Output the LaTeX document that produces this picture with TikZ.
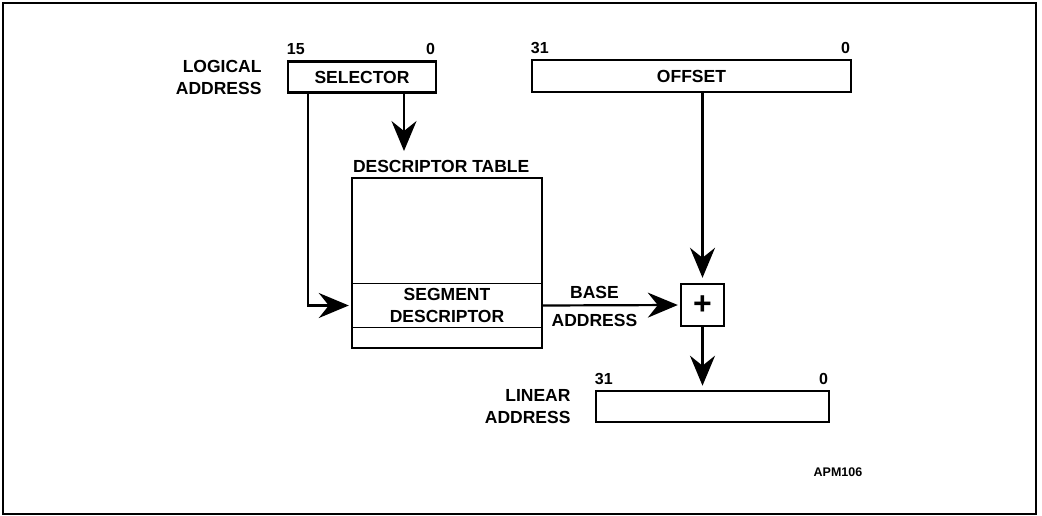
\documentclass[tikz,border=0pt]{standalone}
\usepackage{fontspec}
\setmainfont{Liberation Sans}
\usetikzlibrary{arrows.meta,positioning}
\begin{document}
\begin{tikzpicture}[x=1pt,y=-1pt,
  every node/.style={font=\fontsize{17.5}{22}\selectfont\bfseries,inner sep=0pt},
  regbox/.style={draw,line width=2.6pt,minimum height=31pt},
  bitno/.style={font=\fontsize{16}{18}\selectfont\bfseries,inner sep=0pt},
  arr/.style={line width=2.2pt,-{Stealth[length=30pt,width=25pt,inset=10pt]}}]
\useasboundingbox (0,0) rectangle (1042,516);
\draw[line width=2pt] (3,3) rectangle (1036,514);
% registers
\node[regbox,minimum width=148pt] (sel) at (362,77) {SELECTOR};
\node[regbox,minimum width=319pt,minimum height=32pt] (off) at (691.5,76) {OFFSET};
\node[regbox,minimum width=233pt] (lin) at (712.5,406.5) {};
\foreach \r/\hi in {sel/15,off/31,lin/31} {
  \node[bitno,anchor=south west] (\r-hi) at ([yshift=5pt]\r.north west) {\hi};
  \node[bitno,anchor=south east] (\r-lo) at ([xshift=-2pt,yshift=5pt]\r.north east) {0};
}
\node[align=right,left=25pt of sel] (logaddr) {LOGICAL\\ADDRESS};
\node[align=right,left=24pt of lin] (linaddr) {LINEAR\\ADDRESS};
% descriptor table
\node[draw,line width=2.4pt,minimum width=190pt,minimum height=170pt] (tab) at (447,263) {};
\node[anchor=south west] (tabname) at ([xshift=2pt,yshift=4pt]tab.north west) {DESCRIPTOR TABLE};
\node[minimum width=190pt,minimum height=43pt,align=center] (seg) at (447,305.5) {SEGMENT\\DESCRIPTOR};
\draw[line width=1.3pt] (seg.north west) -- (seg.north east) (seg.south west) -- (seg.south east);
% adder
\node[draw,line width=2.4pt,minimum width=43pt,minimum height=42pt,font=\fontsize{32}{32}\selectfont\bfseries] (plus) at (702.5,305) {+};
\node[font=\fontsize{12.5}{14}\selectfont\bfseries] (fig) at (838,472) {APM106};
% connectors
\coordinate (selout) at ([xshift=42pt]sel.south);
\coordinate (selidx) at ([xshift=-54pt]sel.south);
\draw[arr,shorten >=9pt] (selout) -- (selout |- tabname.north);
\draw[arr,shorten >=3pt] (selidx) |- (seg.west);
\draw[arr,shorten >=2pt] (seg.east) -- (plus.west)
  node[pos=0.38,above=6pt] (basetxt) {BASE}
  node[pos=0.38,below=8pt] (addrtxt) {ADDRESS};
\draw[arr,shorten >=5pt] (off.south -| plus) -- (plus.north);
\draw[arr,shorten >=4pt] (plus.south) -- (lin.north -| plus);
\end{tikzpicture}
\end{document}
